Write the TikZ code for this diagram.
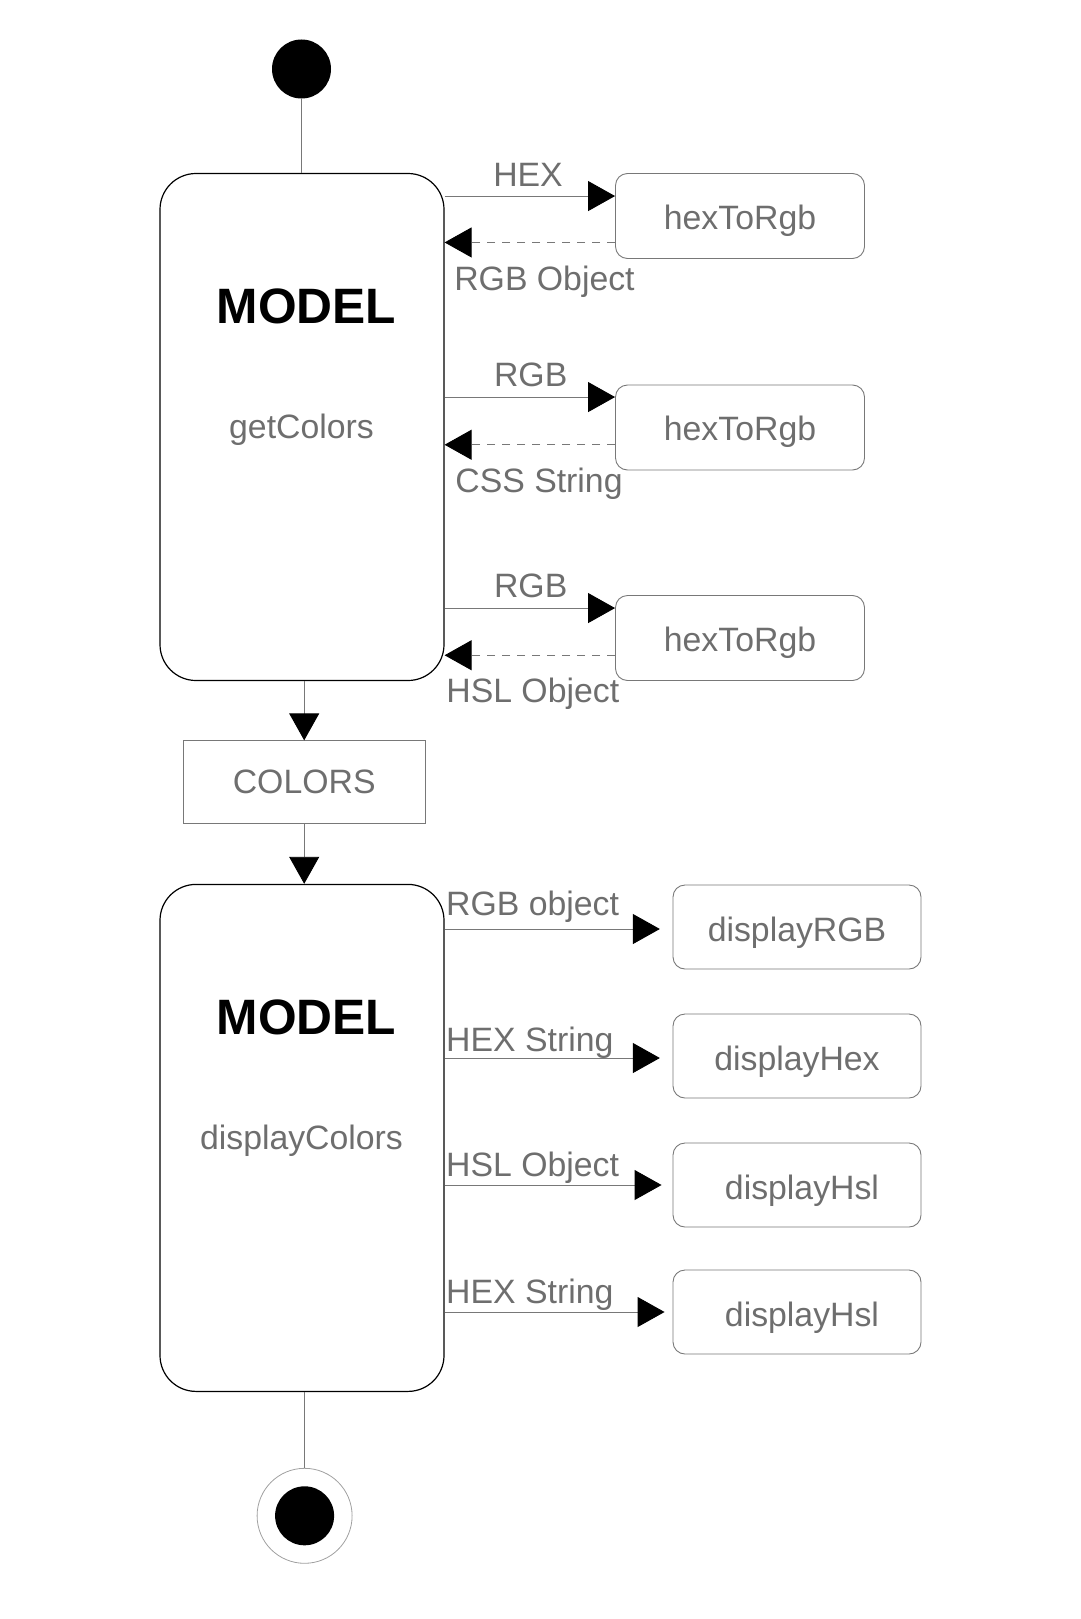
\documentclass[tikz,border=0pt]{standalone}
\usepackage{fontspec}
\setmainfont{Liberation Sans}
\usetikzlibrary{arrows.meta}

\definecolor{textgray}{RGB}{110,110,110}
\definecolor{linegray}{RGB}{120,120,120}

\tikzset{
  model/.style={draw=black, line width=1.2pt, rounded corners=36pt, minimum width=284pt, minimum height=507pt},
  func/.style={draw=linegray, line width=0.9pt, rounded corners=12pt, minimum width=249pt, minimum height=85pt,
    text=textgray, font=\fontsize{33.8}{40}\selectfont, text height=26pt, text depth=0pt},
  datastore/.style={draw=linegray, line width=0.9pt, minimum width=242pt, minimum height=83pt,
    text=textgray, font=\fontsize{33.8}{40}\selectfont},
  lbl/.style={text=textgray, font=\fontsize{33.8}{40}\selectfont, inner sep=0pt},
  title/.style={font=\fontsize{49.7}{58}\selectfont\bfseries, inner sep=0pt, anchor=base},
  conn/.style={draw=linegray, line width=0.9pt},
  flow/.style={conn, -{Triangle[length=27pt,width=30pt,color=black]}},
  reply/.style={flow, dash pattern=on 8pt off 7pt}
}

\begin{document}
\begin{tikzpicture}[x=1pt, y=-1pt]
\useasboundingbox (0,0) rectangle (1080,1619);

\node[circle, fill=black, minimum size=59pt, inner sep=0pt] (start) at (301.5,69) {};

\node[model] (m1) at (302,427) {};
\node[title] (m1title) at (306.5,323.3) {MODEL};
\node[lbl, anchor=base] (m1name) at (301.5,438.3) {getColors};

\node[func] (h1) at (740,216) {hexToRgb};
\node[func] (h2) at (740,427.5) {hexToRgb};
\node[func] (h3) at (740,638) {hexToRgb};

\coordinate (h1in) at ([yshift=-23pt]h1.north west);
\coordinate (h1out) at ([yshift=16.5pt]h1.south west);
\coordinate (h2in) at ([yshift=-12.5pt]h2.north west);
\coordinate (h2out) at ([yshift=25.7pt]h2.south west);
\coordinate (h3in) at ([yshift=-13pt]h3.north west);
\coordinate (h3out) at ([yshift=25.7pt]h3.south west);

\draw[conn] (start) -- (start |- m1.north);

\draw[flow] (h1in -| m1.east) -- (h1in);
\draw[reply] (h1out) -- (h1out -| m1.east);
\draw[flow] (h2in -| m1.east) -- (h2in);
\draw[reply] (h2out) -- (h2out -| m1.east);
\draw[flow] (h3in -| m1.east) -- (h3in);
\draw[reply] (h3out) -- (h3out -| m1.east);

\node[lbl, anchor=base] (l1in) at (528,186) {HEX};
\node[lbl, anchor=base] (l1out) at (544.5,290) {RGB Object};
\node[lbl, anchor=base] (l2in) at (530.7,386.7) {RGB};
\node[lbl, anchor=base] (l2out) at (539,492.1) {CSS String};
\node[lbl, anchor=base] (l3in) at (530.7,597.3) {RGB};
\node[lbl, anchor=base] (l3out) at (532.8,702.7) {HSL Object};

\node[datastore] (colors) at (304.2,782.3) {COLORS};
\draw[flow] (colors.north |- m1.south) -- (colors.north);

\node[model] (m2) at (302,1137.9) {};
\node[title] (m2title) at (306.5,1034.8) {MODEL};
\node[lbl, anchor=base] (m2name) at (301.5,1149.8) {displayColors};
\draw[flow] (colors.south) -- (colors.south |- m2.north);

\node[func, minimum width=248pt, minimum height=84pt, text height=29pt] (d1) at (797,927) {displayRGB};
\node[func, minimum width=248pt, minimum height=84pt, text height=29pt] (d2) at (797,1056) {displayHex};
\node[func, minimum width=248pt, minimum height=84pt, text height=29pt] (d3) at (797,1185) {\hspace{10pt}displayHsl};
\node[func, minimum width=248pt, minimum height=84pt, text height=29pt] (d4) at (797,1312) {\hspace{10pt}displayHsl};

\draw[flow, shorten >=12.7pt] ([yshift=-2pt]d1.west -| m2.east) -- ([yshift=-2pt]d1.west);
\draw[flow, shorten >=12.7pt] ([yshift=-2pt]d2.west -| m2.east) -- ([yshift=-2pt]d2.west);
\draw[flow, shorten >=11pt] (d3.west -| m2.east) -- (d3.west);
\draw[flow, shorten >=8pt] (d4.west -| m2.east) -- (d4.west);

\node[lbl, anchor=base west] (r1) at (446,915) {RGB object};
\node[lbl, anchor=base west] (r2) at (446,1051.7) {HEX String};
\node[lbl, anchor=base west] (r3) at (446,1176.7) {HSL Object};
\node[lbl, anchor=base west] (r4) at (446,1303.3) {HEX String};

\node[circle, draw=linegray!70, line width=0.8pt, minimum size=95pt, inner sep=0pt] (finish) at (304.6,1515.8) {};
\node[circle, fill=black, minimum size=59pt, inner sep=0pt] (finishdot) at (finish) {};
\draw[conn] (finish.north |- m2.south) -- (finish.north);

\end{tikzpicture}
\end{document}
